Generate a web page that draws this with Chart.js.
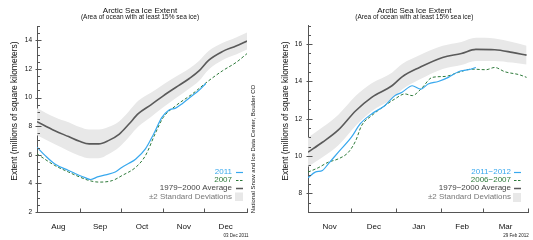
<!DOCTYPE html>
<html><head><meta charset="utf-8">
<script src="https://cdn.jsdelivr.net/npm/chart.js@4.4.1/dist/chart.umd.min.js"></script>
<style>
html,body{margin:0;padding:0;background:#fff;}
#wrap{position:relative;width:533px;height:240px;overflow:hidden;background:#fff;}
#c1{position:absolute;left:0;top:0;}
#c2{position:absolute;left:265px;top:0;}
</style></head><body>
<div id="wrap"><canvas id="c1" width="265" height="240"></canvas><canvas id="c2" width="268" height="240"></canvas></div>
<script>
// ---------- Left chart (Aug–Dec 2011), x = days since Aug 1 ----------
const leftMonths = ['Aug','Sep','Oct','Nov','Dec'];
const leftMonthStarts = [0,31,61,92,122,153];
const leftYTicks = [2,4,6,8,10,12,14];

const leftBandDays = [0,13,23,31,38,45,52,60,67,74,83,92,101,111,118,125,135,145,153];
const leftAvg   = [8.31,7.68,7.27,6.94,6.76,6.76,6.99,7.45,8.15,8.89,9.49,10.12,10.7,11.33,11.86,12.6,13.21,13.6,13.95];
const leftUpper = [9.26,8.63,8.27,7.94,7.76,7.76,7.94,8.35,9.05,9.79,10.34,10.92,11.45,12.03,12.56,13.25,13.81,14.2,14.55];
const leftLower = [7.36,6.73,6.27,5.94,5.76,5.76,6.04,6.55,7.25,7.99,8.64,9.32,9.95,10.63,11.16,11.95,12.61,13.0,13.35];

const days2011 = [0,6,13,23,31,35,39,44,50,57,62,67,72,79,85,91,96,101,106,113,118,123];
const ext2011  = [6.53,5.94,5.36,4.9,4.55,4.4,4.27,4.45,4.6,4.79,5.13,5.4,5.71,6.41,7.45,8.61,9.12,9.26,9.59,10.12,10.5,10.98];

const days2007 = [0,13,23,31,38,45,55,62,72,79,86,92,101,113,125,135,145,153];
const ext2007  = [6.06,5.25,4.79,4.45,4.2,4.09,4.2,4.55,5.13,5.94,7.45,8.61,9.42,10.24,11.17,11.86,12.45,13.07];

// ---------- Right chart (Nov 2011–Mar 2012), x = days since Nov 1 ----------
const rightMonths = ['Nov','Dec','Jan','Feb','Mar'];
const rightMonthStarts = [0,30,61,92,121,152];
const rightYTicks = [8,10,12,14,16];

const rightBandDays = [0,10,21,33,44,58,65,77,93,106,116,129,141,151];
const rightAvg   = [10.21,10.74,11.4,12.43,13.15,13.77,14.25,14.75,15.29,15.5,15.72,15.7,15.56,15.41];
const rightUpper = [10.99,11.54,12.22,13.23,13.9,14.47,14.93,15.4,15.91,16.12,16.34,16.3,16.11,15.91];
const rightLower = [9.43,9.94,10.58,11.63,12.4,13.07,13.57,14.1,14.67,14.88,15.1,15.1,15.01,14.91];

const days1112 = [0,5,10,14,21,30,36,44,53,60,65,72,78,83,90,97,104,111,116];
const ext1112  = [8.83,9.14,9.23,9.58,10.21,11.01,11.72,12.26,12.7,13.24,13.42,13.77,13.59,13.86,14.0,14.22,14.52,14.63,14.75];

const days0607 = [0,7,14,21,28,33,37,44,53,60,67,72,78,86,95,104,113,123,129,136,146,151];
const ext0607  = [9.14,9.37,9.67,9.85,10.21,10.83,11.63,12.17,12.7,13.06,13.33,13.24,13.59,14.22,14.27,14.49,14.66,14.63,14.75,14.52,14.36,14.22];

const TITLE = 'Arctic Sea Ice Extent';
const SUBTITLE = '(Area of ocean with at least 15% sea ice)';
const YTITLE = 'Extent (millions of square kilometers)';
const AVG_LABEL = '1979\u22122000 Average';
const SD_LABEL = '\u00b12 Standard Deviations';
const CREDIT = 'National Snow and Ice Data Center, Boulder CO';

const F = '"Liberation Sans", Arial, Helvetica, sans-serif';
const FN = '"Liberation Sans Narrow", "Liberation Sans", Arial, sans-serif';
const BLUE = '#38a8ee', GREEN = '#2d7a3a', AVGC = '#5a5a5a', BAND = '#e8e8e8';

function pts(xs, ys){ return xs.map((x,i)=>({x:x, y:ys[i]})); }

function makeDeco(o){
  return {
    id:'deco',
    afterDraw(chart){
      const ctx = chart.ctx, xs = chart.scales.x, ys = chart.scales.y;
      const ca = chart.chartArea;
      ctx.save();
      // titles
      ctx.fillStyle = '#111'; ctx.textAlign='center'; ctx.textBaseline='middle';
      ctx.font = '8px ' + FN; ctx.fillText(TITLE, o.titleX, o.titleY);
      ctx.font = '6.5px ' + FN; ctx.fillText(SUBTITLE, o.titleX, o.subY);
      // y axis title
      ctx.save(); ctx.translate(o.yTitleX, o.yTitleY); ctx.rotate(-Math.PI/2);
      ctx.font = '8.5px ' + F; ctx.fillStyle='#111'; ctx.fillText(YTITLE, 0, 0); ctx.restore();
      // y ticks (inward), minor every 0.5
      ctx.strokeStyle = '#555'; ctx.lineWidth = 1;
      const ax = Math.round(ca.left) + 0.5;
      for (let k = 0; ; k++) {
        const v = o.yMin + k*0.5; if (v > o.yMax + 1e-6) break;
        const py = Math.round(ys.getPixelForValue(v)) + 0.5;
        const major = Math.abs(v/2 - Math.round(v/2)) < 1e-6;
        ctx.beginPath();
        ctx.moveTo(major ? ax-2 : ax, py); ctx.lineTo(major ? ax+4 : ax+2.5, py); ctx.stroke();
      }
      // x ticks at month boundaries (upward)
      const by = Math.round(ca.bottom) + 0.5;
      o.monthStarts.slice(1).forEach(d => {
        const px = Math.round(xs.getPixelForValue(d)) + 0.5;
        ctx.beginPath(); ctx.moveTo(px, by); ctx.lineTo(px, by-4); ctx.stroke();
      });
      // legend
      ctx.textAlign='right'; ctx.textBaseline='middle'; ctx.font='8px ' + F;
      const L = o.legend;
      const rows = [
        {t:o.curLabel, c:BLUE, lc:BLUE, dash:[]},
        {t:o.oldLabel, c:GREEN, lc:GREEN, dash:[2.5,1.5]},
        {t:AVG_LABEL, c:'#444', lc:AVGC, dash:[]},
        {t:SD_LABEL, c:'#777', box:true}
      ];
      rows.forEach((r,i)=>{
        const y = L.ys[i];
        ctx.fillStyle = r.c; ctx.fillText(r.t, L.textR, y);
        if (r.box) {
          ctx.fillStyle = BAND; ctx.fillRect(L.sx0-1, L.boxY, L.sx1-L.sx0+1, L.boxH);
        } else {
          ctx.strokeStyle = r.lc; ctx.lineWidth = (i===2?1.5:1.2); ctx.setLineDash(r.dash);
          ctx.beginPath(); ctx.moveTo(L.sx0, y+0.5); ctx.lineTo(L.sx1, y+0.5); ctx.stroke();
          ctx.setLineDash([]);
        }
      });
      // credit + date
      if (o.credit) {
        ctx.save(); ctx.translate(o.credit.x, o.credit.y); ctx.rotate(-Math.PI/2);
        ctx.textAlign='center'; ctx.font='6px ' + F; ctx.fillStyle='#111';
        ctx.fillText(CREDIT, 0, 0); ctx.restore();
      }
      ctx.textAlign='center'; ctx.font='4.5px ' + F; ctx.fillStyle='#222';
      ctx.fillText(o.date.t, o.date.x, o.date.y);
      ctx.restore();
    }
  };
}

function build(canvas, o){
  const mids = o.monthStarts.slice(0,-1).map((s,i)=>(s+o.monthStarts[i+1])/2);
  const lineBase = {pointRadius:0, fill:false, cubicInterpolationMode:'monotone'};
  return new Chart(canvas, {
    type:'line',
    data:{datasets:[
      Object.assign({}, lineBase, {label:'upper', data:pts(o.bandDays,o.upper), borderWidth:0, borderColor:'rgba(0,0,0,0)', fill:'+1', backgroundColor:BAND, order:10}),
      Object.assign({}, lineBase, {label:'lower', data:pts(o.bandDays,o.lower), borderWidth:0, borderColor:'rgba(0,0,0,0)', order:9}),
      Object.assign({}, lineBase, {label:AVG_LABEL, data:pts(o.bandDays,o.avg), borderColor:AVGC, borderWidth:1.6, order:3}),
      Object.assign({}, lineBase, {label:o.oldLabel, data:pts(o.oldDays,o.oldVals), borderColor:GREEN, borderWidth:1, borderDash:[3,2], order:2}),
      Object.assign({}, lineBase, {label:o.curLabel, data:pts(o.curDays,o.curVals), borderColor:BLUE, borderWidth:1.2, order:1})
    ]},
    options:{
      responsive:false, animation:false, devicePixelRatio:1,
      layout:{padding:{left:0, right:o.padR, top:o.padT, bottom:0}},
      plugins:{legend:{display:false}, tooltip:{enabled:false}},
      scales:{
        x:{type:'linear', min:0, max:o.monthStarts[o.monthStarts.length-1],
          grid:{display:false, drawTicks:false}, border:{display:true, color:'#555', width:1},
          afterFit:s=>{s.height=28;},
          afterBuildTicks:s=>{s.ticks = mids.map(v=>({value:v}));},
          ticks:{autoSkip:false, maxRotation:0, padding:10, color:'#111', font:{size:8, family:F},
            callback:(v,i)=>o.months[i]}},
        y:{type:'linear', min:o.yMin, max:o.yMax,
          grid:{display:false, drawTicks:false}, border:{display:true, color:'#555', width:1},
          afterFit:s=>{s.width=o.axisW;},
          afterBuildTicks:s=>{s.ticks = o.yTicks.map(v=>({value:v}));},
          ticks:{padding:o.tickPad, color:'#111', font:{size:6.5, family:F}}}
      }
    },
    plugins:[makeDeco(o)]
  });
}

build(document.getElementById('c1'), {
  months:leftMonths, monthStarts:leftMonthStarts, yTicks:leftYTicks, yMin:2, yMax:15,
  bandDays:leftBandDays, avg:leftAvg, upper:leftUpper, lower:leftLower,
  curDays:days2011, curVals:ext2011, curLabel:'2011',
  oldDays:days2007, oldVals:ext2007, oldLabel:'2007',
  padR:18, padT:26, axisW:37, tickPad:5,
  titleX:140, titleY:10.5, subY:17, yTitleX:15, yTitleY:111,
  legend:{textR:232, sx0:236, sx1:243, ys:[172,180,188,197], boxY:192.5, boxH:8.5},
  credit:{x:253, y:149}, date:{t:'03 Dec 2011', x:236, y:236}
});

build(document.getElementById('c2'), {
  months:rightMonths, monthStarts:rightMonthStarts, yTicks:rightYTicks, yMin:7, yMax:17,
  bandDays:rightBandDays, avg:rightAvg, upper:rightUpper, lower:rightLower,
  curDays:days1112, curVals:ext1112, curLabel:'2011\u22122012',
  oldDays:days0607, oldVals:ext0607, oldLabel:'2006\u22122007',
  padR:5, padT:25.5, axisW:43, tickPad:6,
  titleX:149.3, titleY:11, subY:17.5, yTitleX:21, yTitleY:111,
  legend:{textR:246, sx0:249, sx1:256, ys:[172,180,188,197], boxY:193, boxH:9},
  credit:null, date:{t:'29 Feb 2012', x:251, y:236}
});
</script>
</body></html>
